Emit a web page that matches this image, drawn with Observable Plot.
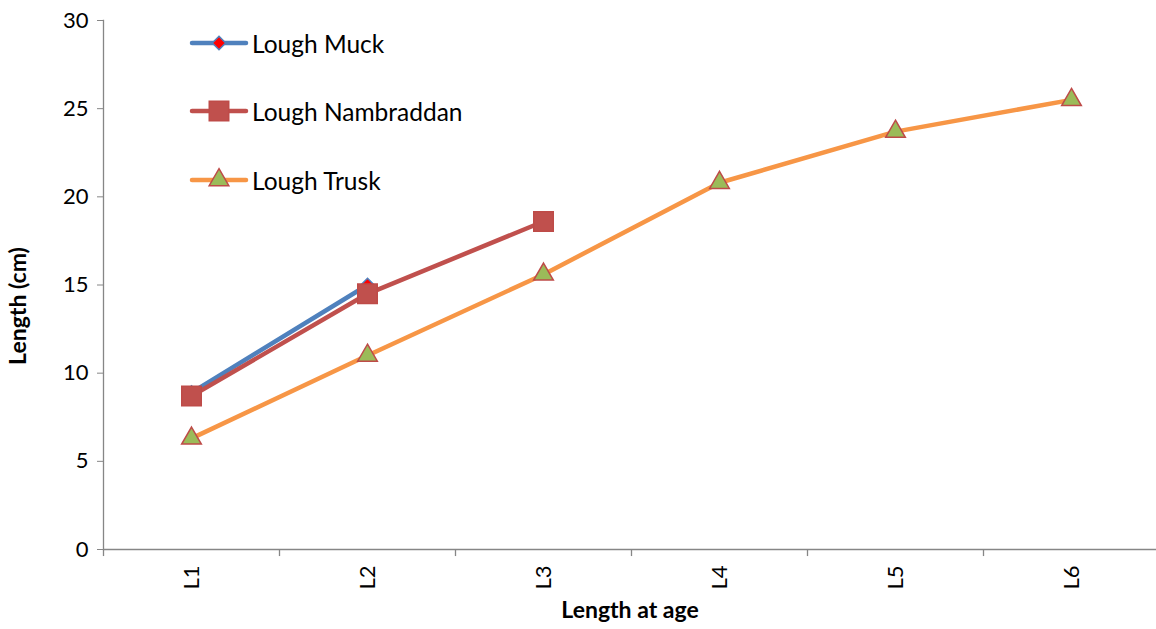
<!DOCTYPE html>
<html><head><meta charset="utf-8">
<script src="https://cdn.jsdelivr.net/npm/d3@7"></script>
<script src="https://cdn.jsdelivr.net/npm/@observablehq/plot@0.6"></script>
<style>
body{margin:0;background:#fff;}
#wrap{position:relative;width:1156px;height:629px;font-family:Lato,sans-serif;}
#legend{position:absolute;left:190px;top:0;}
.row{position:absolute;left:0;display:flex;align-items:center;white-space:nowrap;font-size:24.5px;color:#000;height:28px;}
.row svg{margin-right:4px;}
</style></head><body><div id="wrap"></div>
<script>
const ages = ["L1","L2","L3","L4","L5","L6"];
const muck = [8.9, 15.0];
const nambraddan = [8.7, 14.5, 18.6];
const trusk = [6.3, 11.0, 15.6, 20.8, 23.7, 25.5];
const yTicks = [0, 5, 10, 15, 20, 25, 30];
const seriesNames = ["Lough Muck", "Lough Nambraddan", "Lough Trusk"];
const seriesValues = [muck, nambraddan, trusk];
const lineColors = ["#4F81BD", "#C0504D", "#F79646"];
const markerSymbols = ["diamond2", "square", "triangle"];
const markerFills = ["#FF0000", "#C0504D", "#9BBB59"];
const markerStrokes = ["#4F81BD", "#BE4B48", "#BE4B48"];
const markerR = [6, 11, 7.3];

const rows = seriesNames.map((name, i) => seriesValues[i].map((v, j) => ({series: name, age: ages[j], value: v})));

const marks = [
  Plot.frame({anchor: "left", stroke: "#868686", strokeWidth: 1.3}),
  Plot.ruleY([0], {stroke: "#868686", strokeWidth: 1.3}),
  Plot.ruleX(ages, {x: d => d, y1: 0, y2: -0.4, dx: -88, stroke: "#868686", strokeWidth: 1.3}),
  Plot.axisY({ticks: yTicks, tickSize: 6, tickPadding: 9, fontSize: 22, stroke: "#868686", label: null}),
  Plot.axisX({tickSize: 0, tickPadding: 16, tickRotate: -90, fontSize: 22, label: null}),
  Plot.text(["Length at age"], {frameAnchor: "bottom", dy: 68, fontWeight: "bold", fontSize: 23, textAnchor: "middle"}),
  Plot.text(["Length (cm)"], {frameAnchor: "left", rotate: -90, dx: -85, dy: 21, fontWeight: "bold", fontSize: 23, textAnchor: "middle"})
];
rows.forEach((data, i) => {
  marks.push(Plot.line(data, {x: "age", y: "value", stroke: lineColors[i], strokeWidth: 4.5}));
  marks.push(Plot.dot(data, {x: "age", y: "value", symbol: markerSymbols[i], r: markerR[i], fill: markerFills[i], stroke: markerStrokes[i], strokeWidth: 1.5}));
});

const chart = Plot.plot({
  width: 1156, height: 629,
  marginLeft: 103, marginRight: 0, marginTop: 20, marginBottom: 80,
  style: {fontFamily: "Lato, sans-serif", fontSize: "22px", background: "#fff", overflow: "visible"},
  x: {type: "point", domain: ages, range: [103, 1159], padding: 0.5, axis: null},
  y: {domain: [0, 30], range: [549, 20], axis: null},
  marks
});
const wrap = document.getElementById("wrap");
wrap.appendChild(chart);

// legend
const legend = document.createElement("div");
legend.id = "legend";
const rowY = [43, 111, 180];
const symbolGen = [d3.symbolDiamond2, d3.symbolSquare, d3.symbolTriangle];
seriesNames.forEach((name, i) => {
  const row = document.createElement("div");
  row.className = "row";
  row.style.top = (rowY[i] - 14) + "px";
  const size = Math.PI * markerR[i] * markerR[i];
  const path = d3.symbol(symbolGen[i], size)();
  row.innerHTML = `<svg width="58" height="28" style="overflow:visible"><line x1="2" x2="56" y1="14" y2="14" stroke="${lineColors[i]}" stroke-width="4.5" stroke-linecap="round"/><path d="${path}" transform="translate(29,14)" fill="${markerFills[i]}" stroke="${markerStrokes[i]}" stroke-width="1.5"/></svg><span>${name}</span>`;
  legend.appendChild(row);
});
wrap.appendChild(legend);
</script>
</body></html>
